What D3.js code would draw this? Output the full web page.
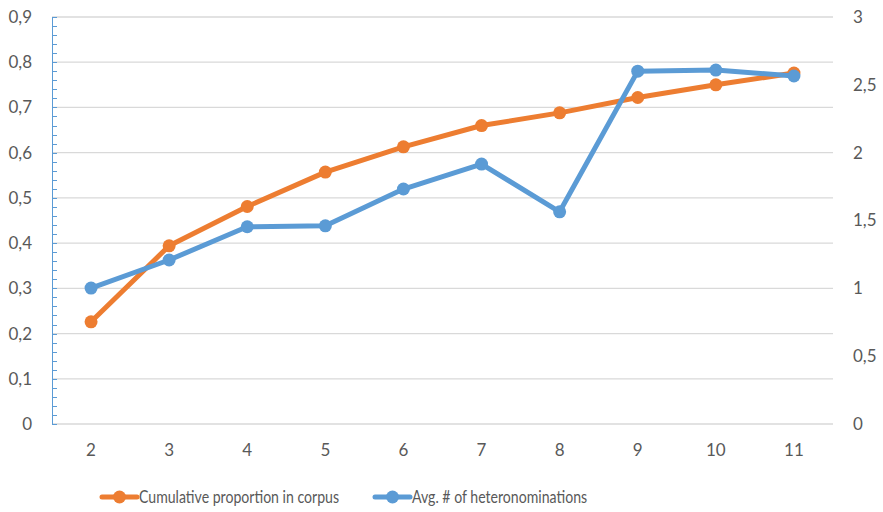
<!DOCTYPE html>
<html>
<head>
<meta charset="utf-8">
<script src="https://cdn.jsdelivr.net/npm/d3@7/dist/d3.min.js"></script>
<style>
  html, body { margin: 0; padding: 0; background: #fff; }
  svg { display: block; font-family: Lato, "Open Sans", sans-serif; }
</style>
</head>
<body>
<svg id="chart" width="883" height="512"></svg>
<script>
// Data
const categories = ["2", "3", "4", "5", "6", "7", "8", "9", "10", "11"];
const cumulativeProportion = [0.226, 0.394, 0.481, 0.557, 0.613, 0.660, 0.688, 0.722, 0.750, 0.776];
const avgHeteronominations = [1.002, 1.209, 1.454, 1.461, 1.732, 1.916, 1.564, 2.601, 2.609, 2.565];
const leftTicks = [0, 0.1, 0.2, 0.3, 0.4, 0.5, 0.6, 0.7, 0.8, 0.9];
const rightTicks = [0, 0.5, 1, 1.5, 2, 2.5, 3];
const seriesNames = ["Cumulative proportion in corpus", "Avg. # of heteronominations"];

const ORANGE = "#ED7D31", BLUE = "#5B9BD5", GRID = "#d9d9d9", TEXT = "#595959";
const FS = 17;
const fmt = d => String(d).replace(".", ",");

const svg = d3.select("#chart");
const m = { left: 52, right: 50, top: 17, bottom: 88 };
const W = 883, H = 512;
const x0 = m.left, x1 = W - m.right, y0 = H - m.bottom, y1 = m.top;

const x = d3.scaleBand().domain(categories).range([x0, x1]);
const yL = d3.scaleLinear().domain([0, 0.9]).range([y0, y1]);
const yR = d3.scaleLinear().domain([0, 3]).range([y0, y1]);

// Gridlines
svg.append("g").selectAll("line").data(leftTicks).join("line")
  .attr("x1", x0).attr("x2", x1)
  .attr("y1", d => yL(d)).attr("y2", d => yL(d))
  .attr("stroke", GRID).attr("stroke-width", 1.3);

// Left axis with inner minor ticks
const minor = d3.range(0, 0.9 + 1e-9, 0.02);
const gAxis = svg.append("g");
gAxis.selectAll("line.minor").data(minor).join("line")
  .attr("class", "minor")
  .attr("x1", x0).attr("x2", x0 + 5)
  .attr("y1", d => Math.round(yL(d)) + 0.5).attr("y2", d => Math.round(yL(d)) + 0.5)
  .attr("stroke", BLUE).attr("stroke-width", 1);
gAxis.append("line")
  .attr("x1", x0 + 0.5).attr("x2", x0 + 0.5).attr("y1", y1).attr("y2", y0)
  .attr("stroke", BLUE).attr("stroke-width", 1);

// Left tick labels
svg.append("g").selectAll("text").data(leftTicks).join("text")
  .attr("x", 32).attr("y", d => yL(d)).attr("dy", "0.35em")
  .attr("text-anchor", "end").attr("fill", TEXT).attr("font-size", FS)
  .text(fmt);

// Right tick labels
svg.append("g").selectAll("text").data(rightTicks).join("text")
  .attr("x", 853).attr("y", d => yR(d)).attr("dy", "0.35em")
  .attr("text-anchor", "start").attr("fill", TEXT).attr("font-size", FS)
  .text(fmt);

// Category labels
svg.append("g").selectAll("text").data(categories).join("text")
  .attr("x", d => x(d) + x.bandwidth() / 2).attr("y", 450).attr("dy", "0.35em")
  .attr("text-anchor", "middle").attr("fill", TEXT).attr("font-size", FS)
  .text(d => d);

// Series
function drawSeries(values, yScale, color) {
  const pts = values.map((v, i) => [x(categories[i]) + x.bandwidth() / 2, yScale(v)]);
  const g = svg.append("g");
  g.append("path").attr("d", d3.line()(pts))
    .attr("fill", "none").attr("stroke", color).attr("stroke-width", 5)
    .attr("stroke-linejoin", "round").attr("stroke-linecap", "round");
  g.selectAll("circle").data(pts).join("circle")
    .attr("cx", d => d[0]).attr("cy", d => d[1]).attr("r", 6.5)
    .attr("fill", color);
}
drawSeries(cumulativeProportion, yL, ORANGE);
drawSeries(avgHeteronominations, yR, BLUE);

// Legend (condensed text)
const legend = [
  { name: seriesNames[0], color: ORANGE, x: 102 },
  { name: seriesNames[1], color: BLUE, x: 375 }
];
const ly = 497;
const lg = svg.append("g").selectAll("g").data(legend).join("g");
lg.append("line")
  .attr("x1", d => d.x).attr("x2", d => d.x + 35).attr("y1", ly).attr("y2", ly)
  .attr("stroke", d => d.color).attr("stroke-width", 5).attr("stroke-linecap", "round");
lg.append("circle")
  .attr("cx", d => d.x + 17.5).attr("cy", ly).attr("r", 6.5).attr("fill", d => d.color);
lg.append("text")
  .attr("transform", d => `translate(${d.x + 37},${ly}) scale(0.83,1)`)
  .attr("dy", "0.35em")
  .attr("fill", TEXT).attr("font-size", FS)
  .text(d => d.name);
</script>
</body>
</html>
